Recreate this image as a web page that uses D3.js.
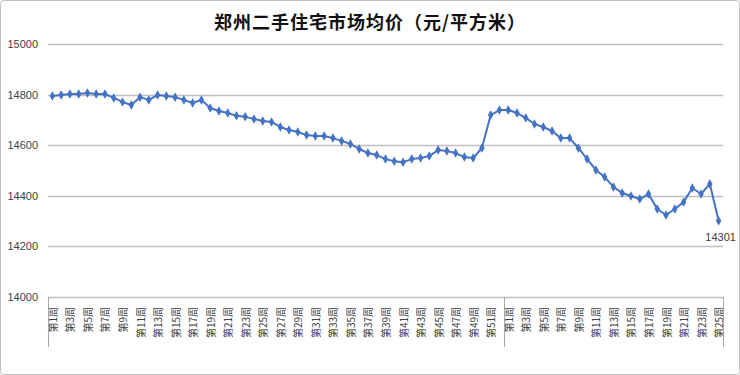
<!DOCTYPE html>
<html>
<head>
<meta charset="utf-8">
<title>郑州二手住宅市场均价</title>
<script src="https://d3js.org/d3.v7.min.js"></script>
<style>
  html, body { margin: 0; padding: 0; background: #fff; }
  svg { display: block; font-family: "Liberation Sans", Arial, sans-serif; }
</style>
</head>
<body>
<svg id="chart" width="740" height="375"></svg>
<script>
// week labels (first year 52 weeks, second year 25 weeks)
var weeksYear1 = d3.range(1, 53).map(function(n) { return "第" + n + "周"; });
var weeksYear2 = d3.range(1, 26).map(function(n) { return "第" + n + "周"; });

// average price, yuan / m2
var pricesYear1 = [
  14794, 14798, 14802, 14802, 14806, 14802, 14802, 14787, 14771, 14759,
  14790, 14779, 14798, 14794, 14790, 14779, 14767, 14779, 14747, 14735,
  14727, 14716, 14712, 14704, 14696, 14692, 14672, 14660, 14652, 14640,
  14636, 14636, 14628, 14617, 14605, 14585, 14569, 14561, 14545, 14537,
  14533, 14545, 14549, 14557, 14581, 14577, 14569, 14553, 14549, 14589,
  14719, 14739
];
var pricesYear2 = [
  14739, 14727, 14708, 14684, 14672, 14656, 14628, 14628, 14589, 14545,
  14502, 14474, 14435, 14411, 14399, 14387, 14407, 14348, 14324, 14348,
  14375, 14431, 14407, 14447, 14301
];
var yTicks = [14000, 14200, 14400, 14600, 14800, 15000];

var title = "郑州二手住宅市场均价（元/平方米）";

// flatten into one series
var points = [];
weeksYear1.forEach(function(w, i) { points.push({key: "a" + i, label: w, value: pricesYear1[i], idx: i}); });
weeksYear2.forEach(function(w, i) { points.push({key: "b" + i, label: w, value: pricesYear2[i], idx: i}); });

var svg = d3.select("#chart");
var plot = {left: 48, right: 723, top: 44, bottom: 297};

// outer frame
svg.append("rect")
    .attr("x", 0.5).attr("y", 0.5)
    .attr("width", 739).attr("height", 374)
    .attr("rx", 3)
    .attr("fill", "#fff")
    .attr("stroke", "#bfbfbf");

svg.append("text")
    .attr("x", 370).attr("y", 29)
    .attr("text-anchor", "middle")
    .attr("font-family", "'Noto Sans CJK SC', sans-serif")
    .attr("font-size", 18)
    .attr("font-weight", "bold")
    .attr("letter-spacing", 1)
    .attr("fill", "#111")
    .text(title);

var x = d3.scaleBand()
    .domain(points.map(function(d) { return d.key; }))
    .range([plot.left, plot.right]);

var y = d3.scaleLinear()
    .domain([14000, 15000])
    .range([plot.bottom, plot.top]);

// gridlines
svg.append("g")
    .selectAll("line")
    .data(yTicks)
    .join("line")
      .attr("x1", plot.left).attr("x2", plot.right)
      .attr("y1", function(d) { return Math.round(y(d)) + 0.5; })
      .attr("y2", function(d) { return Math.round(y(d)) + 0.5; })
      .attr("stroke", "#bfbfbf")
      .attr("stroke-width", 1.3);

// y axis labels
var yAxis = svg.append("g")
    .attr("transform", "translate(" + (plot.left - 10) + ",0)")
    .call(d3.axisLeft(y).tickValues(yTicks).tickSize(0).tickPadding(0).tickFormat(d3.format("d")));
yAxis.select(".domain").remove();
yAxis.selectAll("text")
    .attr("font-size", 11)
    .attr("fill", "#404040");

// x axis: labels every other week
var xAxis = svg.append("g")
    .attr("transform", "translate(0," + plot.bottom + ")")
    .call(d3.axisBottom(x).tickSize(0).tickFormat(function(k) {
      var p = points.find(function(d) { return d.key === k; });
      return p.idx % 2 === 0 ? p.label : "";
    }));
xAxis.select(".domain").remove();
xAxis.selectAll("text")
    .attr("font-family", "'Noto Sans CJK SC', sans-serif")
    .attr("font-size", 10)
    .attr("fill", "#404040")
    .attr("text-anchor", "end")
    .attr("dy", "0.35em")
    .attr("y", 0)
    .attr("transform", "translate(1,10) rotate(-90)");

// year group separators
var sepX = [plot.left, x("b0"), plot.right];
svg.append("g")
    .selectAll("line")
    .data(sepX)
    .join("line")
      .attr("x1", function(d) { return Math.round(d) + 0.5; })
      .attr("x2", function(d) { return Math.round(d) + 0.5; })
      .attr("y1", plot.bottom).attr("y2", plot.bottom + 50)
      .attr("stroke", "#a6a6a6");

var cx = function(d) { return x(d.key) + x.bandwidth() / 2; };

svg.append("path")
    .datum(points)
    .attr("fill", "none")
    .attr("stroke", "#4472c4")
    .attr("stroke-width", 2)
    .attr("stroke-linejoin", "round")
    .attr("d", d3.line().x(cx).y(function(d) { return y(d.value); }));

svg.append("g")
    .selectAll("path")
    .data(points)
    .join("path")
      .attr("d", d3.symbol().type(d3.symbolDiamond).size(26))
      .attr("transform", function(d) { return "translate(" + cx(d) + "," + y(d.value) + ")"; })
      .attr("fill", "#4472c4");

// data label on the last point
var last = points[points.length - 1];
svg.append("text")
    .attr("x", cx(last) + 2)
    .attr("y", y(last.value) + 20)
    .attr("text-anchor", "middle")
    .attr("font-size", 11)
    .attr("fill", "#404040")
    .text(last.value);
</script>
</body>
</html>
